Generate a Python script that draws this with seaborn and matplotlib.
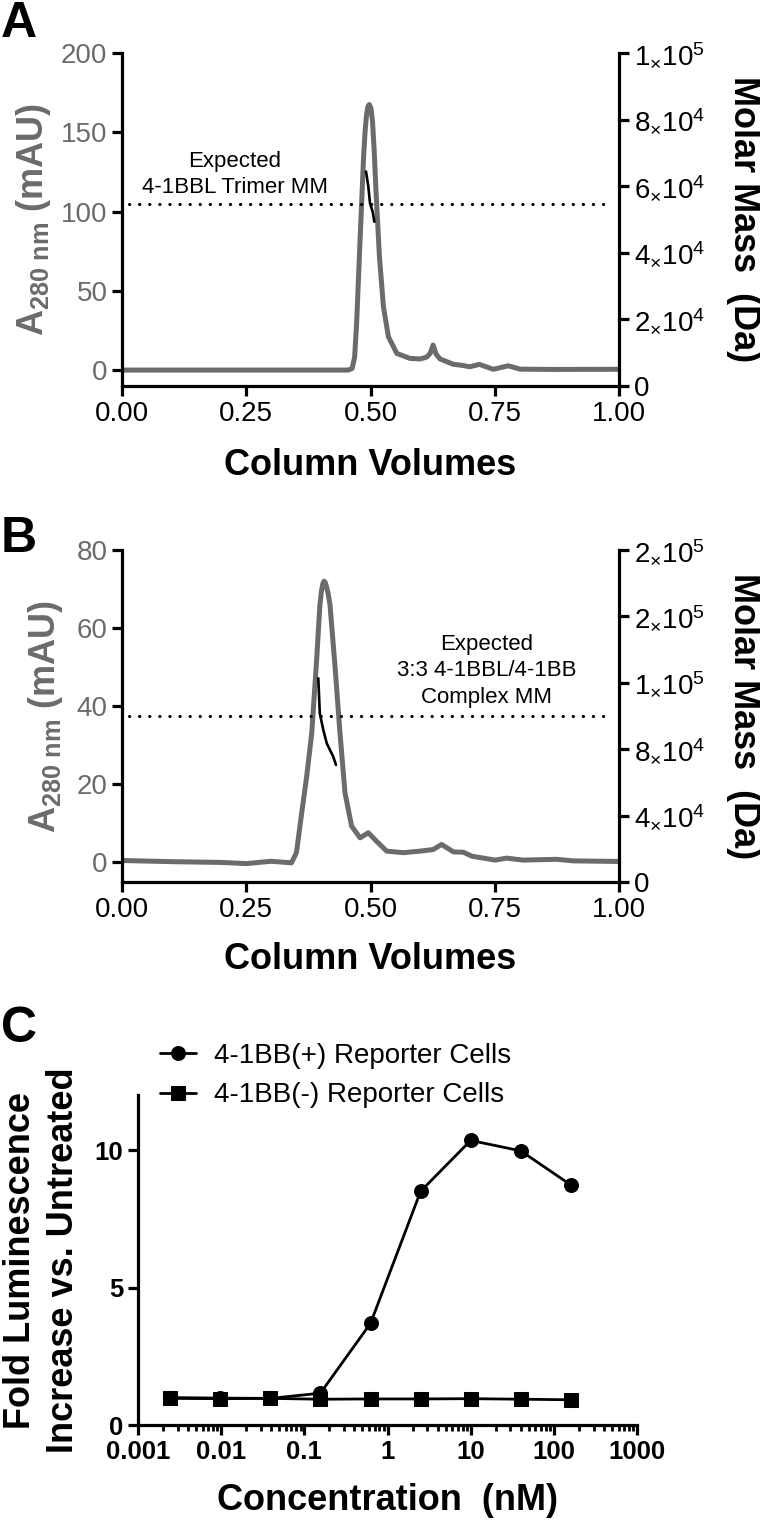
import matplotlib
matplotlib.use("Agg")
import matplotlib.pyplot as plt
import seaborn as sns

# --- panel A: SEC-MALS of 4-1BBL ---
cv_a = [0.00, 0.10, 0.20, 0.30, 0.40, 0.455, 0.463, 0.468, 0.472, 0.479, 0.486,
        0.489, 0.492, 0.495, 0.4977, 0.501, 0.504, 0.5075, 0.511, 0.518, 0.526,
        0.536, 0.553, 0.579, 0.600, 0.613, 0.620, 0.626, 0.632, 0.640, 0.667,
        0.680, 0.700, 0.719, 0.747, 0.777, 0.801, 0.868, 1.00]
a280_a = [0.0, 0.0, 0.0, 0.0, 0.0, 0.0, 1.0, 8.0, 29, 82, 134,
          150, 161, 166.5, 167.5, 165, 157, 138, 113, 71.5, 40,
          21, 10.5, 7.4, 7.0, 8.2, 10.5, 15.8, 10.0, 7.0, 3.6,
          3.2, 2.1, 3.6, 0.5, 2.7, 0.6, 0.4, 0.5]
cv_mm_a = [0.491, 0.4956, 0.499, 0.5044, 0.5077]
mm_a = [64400, 59900, 54900, 52300, 49300]
expected_a = 54600

# --- panel B: SEC-MALS of 4-1BBL/4-1BB complex ---
cv_b = [0.00, 0.10, 0.20, 0.25, 0.30, 0.341, 0.351, 0.3616, 0.3716, 0.3817,
        0.3917, 0.398, 0.401, 0.404, 0.4065, 0.409, 0.4115, 0.4145, 0.4185,
        0.4286, 0.4386, 0.4487, 0.462, 0.479, 0.4956, 0.5124, 0.5325, 0.566,
        0.600, 0.626, 0.643, 0.667, 0.687, 0.704, 0.7505, 0.774, 0.807, 0.874,
        0.908, 1.00]
a280_b = [0.5, 0.2, 0.0, -0.3, 0.3, -0.1, 2.5, 12.7, 22, 33,
          52, 65.5, 69.2, 71.3, 72.0, 71.7, 70.6, 69.0, 66.0,
          50.2, 33.1, 17.8, 9.3, 6.3, 7.6, 5.4, 2.9, 2.5,
          2.9, 3.3, 4.6, 2.7, 2.6, 1.6, 0.6, 1.1, 0.6, 0.8,
          0.4, 0.25]
cv_mm_b = [0.395, 0.398, 0.405, 0.412, 0.4185, 0.425, 0.4306]
mm_b = [122700, 101600, 91600, 83500, 79500, 75500, 70500]
expected_b = 100000

# --- panel C: reporter assay ---
conc = [0.00244, 0.00977, 0.0391, 0.156, 0.625, 2.5, 10, 40, 160]
fold_pos = [1.0, 0.98, 0.97, 1.16, 3.7, 8.5, 10.35, 9.97, 8.73]
fold_neg = [0.97, 0.96, 0.97, 0.94, 0.95, 0.95, 0.96, 0.94, 0.92]

mm_ticks_a = [0, 20000, 40000, 60000, 80000, 100000]
mm_labels_a = ["0", r"$2_{\times}10^4$", r"$4_{\times}10^4$", r"$6_{\times}10^4$",
               r"$8_{\times}10^4$", r"$1_{\times}10^5$"]
mm_ticks_b = [0, 40000, 80000, 120000, 160000, 200000]
mm_labels_b = ["0", r"$4_{\times}10^4$", r"$8_{\times}10^4$", r"$1_{\times}10^5$",
               r"$2_{\times}10^5$", r"$2_{\times}10^5$"]
conc_ticks = [0.001, 0.01, 0.1, 1, 10, 100, 1000]
conc_labels = ["0.001", "0.01", "0.1", "1", "10", "100", "1000"]

GRAY = "#6b6b6b"

sns.set_theme(style="ticks")
plt.rcParams["font.family"] = ["Liberation Sans", "DejaVu Sans"]
plt.rcParams.update({
    "mathtext.fontset": "custom",
    "mathtext.rm": "Liberation Sans",
    "mathtext.bf": "Liberation Sans:bold",
    "mathtext.it": "Liberation Sans:italic",
    "text.color": "black",
    "axes.labelcolor": "black",
    "axes.edgecolor": "black",
    "axes.linewidth": 2.3,
    "xtick.color": "black",
    "ytick.color": "black",
    "xtick.major.width": 2.3,
    "ytick.major.width": 2.3,
    "xtick.minor.width": 2.0,
    "xtick.major.size": 7,
    "ytick.major.size": 7,
    "xtick.minor.size": 4.5,
    "xtick.labelsize": 20,
    "ytick.labelsize": 20,
})

fig = plt.figure(figsize=(7.6, 15.23), dpi=100)


def sec_panel(ax, cv, a280, cv_mm, mm, expected, ylim, yticks, mm_lim,
              mm_ticks, mm_labels, note, note_xy, ylab_x, xlab_y):
    ax2 = ax.twinx()
    sns.lineplot(x=cv, y=a280, ax=ax, color=GRAY, lw=3.6, sort=False)
    sns.lineplot(x=cv_mm, y=mm, ax=ax2, color="black", lw=1.9, sort=False)
    ax2.axhline(expected, xmin=0.015, xmax=0.985, color="black", lw=2.2,
                linestyle=(0, (0.1, 3.2)), dash_capstyle="round")

    ax.set_xlim(0, 1)
    ax.set_ylim(*ylim)
    ax.set_yticks(yticks)
    ax.set_xticks([0, 0.25, 0.5, 0.75, 1.0])
    ax.set_xticklabels(["0.00", "0.25", "0.50", "0.75", "1.00"])
    ax.tick_params(axis="y", labelcolor=GRAY)
    ax.spines[["top", "right"]].set_visible(False)

    ax2.set_ylim(*mm_lim)
    ax2.set_yticks(mm_ticks)
    ax2.set_yticklabels(mm_labels)
    ax2.spines[["top", "left", "bottom"]].set_visible(False)

    ax.set_xlabel("Column Volumes", fontsize=26, fontweight="bold")
    ax.xaxis.set_label_coords(0.5, xlab_y)
    ax.set_ylabel(r"A$_{\mathbf{280\ nm}}$ (mAU)", fontsize=26,
                  fontweight="bold", color=GRAY)
    ax.yaxis.set_label_coords(ylab_x, 0.5)
    ax2.set_ylabel("Molar Mass  (Da)", fontsize=26, fontweight="bold",
                   rotation=-90, va="center")
    ax2.yaxis.set_label_coords(1.25, 0.5)

    ax.text(note_xy[0], note_xy[1], note, transform=ax.transAxes,
            ha="center", va="center", fontsize=16, linespacing=1.35)


axA = fig.add_axes([0.1605, 0.7466, 0.654, 0.2186])
sec_panel(axA, cv_a, a280_a, cv_mm_a, mm_a, expected_a, (-10, 200),
          [0, 50, 100, 150, 200], (0, 100000), mm_ticks_a, mm_labels_a,
          "Expected\n4-1BBL Trimer MM", (0.227, 0.635), -0.139, -0.186)

axB = fig.add_axes([0.1605, 0.4209, 0.654, 0.218])
sec_panel(axB, cv_b, a280_b, cv_mm_b, mm_b, expected_b, (-5, 80),
          [0, 20, 40, 60, 80], (0, 200000), mm_ticks_b, mm_labels_b,
          "Expected\n3:3 4-1BBL/4-1BB\nComplex MM", (0.734, 0.636), -0.115, -0.181)

# panel C
axC = fig.add_axes([0.1816, 0.0643, 0.6566, 0.2167])
sns.lineplot(x=conc, y=fold_pos, ax=axC, color="black", lw=2.0, marker="o",
             markersize=10, markeredgecolor="black",
             label="4-1BB(+) Reporter Cells")
sns.lineplot(x=conc, y=fold_neg, ax=axC, color="black", lw=2.0, marker="s",
             markersize=9.5, markeredgecolor="black",
             label="4-1BB(-) Reporter Cells")
axC.set_xscale("log")
axC.set_xlim(0.001, 1000)
axC.set_ylim(0, 12)
axC.set_yticks([0, 5, 10])
axC.set_xticks(conc_ticks)
axC.set_xticklabels(conc_labels)
for lab in axC.get_xticklabels() + axC.get_yticklabels():
    lab.set_fontweight("bold")
    lab.set_fontsize(18.5)
axC.spines[["top", "right"]].set_visible(False)
axC.set_xlabel("Concentration  (nM)", fontsize=26, fontweight="bold")
axC.xaxis.set_label_coords(0.5, -0.176)
axC.set_ylabel("Fold Luminescence\nIncrease vs. Untreated", fontsize=26,
               fontweight="bold", linespacing=1.3)
axC.yaxis.set_label_coords(-0.114, 0.5)
axC.legend(loc="center left", bbox_to_anchor=(0.2105, 0.2938),
           bbox_transform=fig.transFigure, frameon=False, fontsize=20,
           handlelength=1.3, handletextpad=0.65, labelspacing=0.5,
           borderpad=0, borderaxespad=0)

# panel letters
fig.text(0.001, 1 - 37 / 1523, "A", fontsize=36, fontweight="bold", va="baseline")
fig.text(0.001, 1 - 552 / 1523, "B", fontsize=36, fontweight="bold", va="baseline")
fig.text(0.001, 1 - 1042 / 1523, "C", fontsize=36, fontweight="bold", va="baseline")

fig.savefig("out.png", dpi=100)
